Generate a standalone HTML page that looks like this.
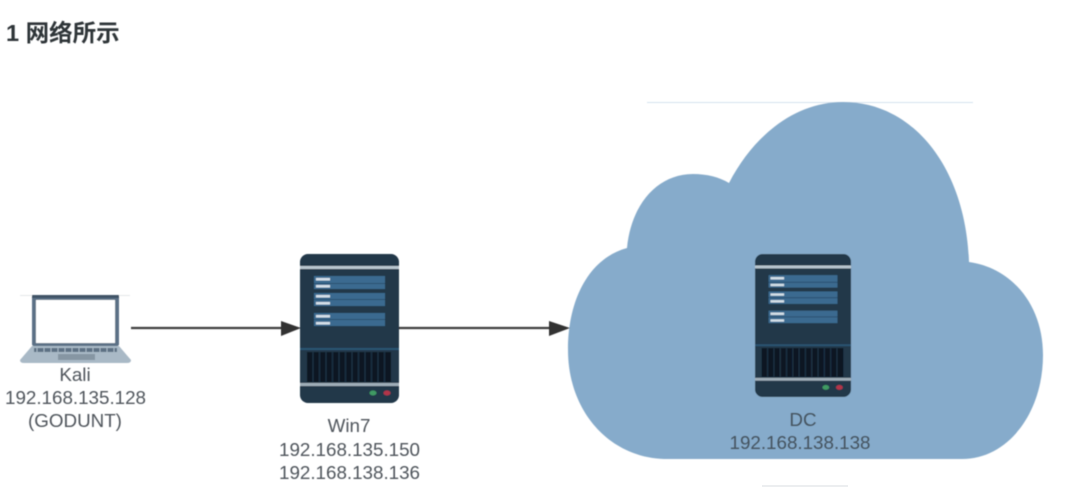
<!DOCTYPE html>
<html>
<head>
<meta charset="utf-8">
<style>
html,body{margin:0;padding:0;background:#fff;width:1080px;height:496px;overflow:hidden}
svg{display:block}
text{font-family:"Liberation Sans","Noto Sans CJK SC",sans-serif}
.l{font-size:18.800px;fill:#4f555c;text-anchor:middle}
.d{font-size:18.800px;fill:#44535f;text-anchor:middle}
</style>
</head>
<body>
<svg width="1080" height="496" viewBox="0 0 1080 496" xmlns="http://www.w3.org/2000/svg">
<defs>
<filter id="b" x="-5%" y="-5%" width="110%" height="110%"><feGaussianBlur stdDeviation="0.6"/></filter>
<filter id="t" x="-5%" y="-20%" width="110%" height="140%"><feGaussianBlur stdDeviation="0.45"/></filter>
<g id="srv">
  <rect x="0" y="0" width="99" height="149" rx="8" fill="#213748"/>
  <rect x="0" y="12" width="99" height="3" fill="#b9c6cf"/>
  <rect x="14" y="22" width="71" height="13" fill="#3b6a90"/>
  <rect x="14" y="29" width="71" height="1" fill="#29506f"/>
  <rect x="14" y="39" width="71" height="13" fill="#3b6a90"/>
  <rect x="14" y="45" width="71" height="1" fill="#29506f"/>
  <rect x="14" y="59" width="71" height="13" fill="#3b6a90"/>
  <rect x="14" y="65" width="71" height="1" fill="#29506f"/>
  <rect x="16" y="24" width="14" height="2.500" fill="#d5e0e8"/>
  <rect x="16" y="31" width="14" height="2.500" fill="#d5e0e8"/>
  <rect x="16" y="41" width="14" height="2.500" fill="#d5e0e8"/>
  <rect x="16" y="48" width="14" height="2.500" fill="#d5e0e8"/>
  <rect x="16" y="61" width="14" height="2.500" fill="#d5e0e8"/>
  <rect x="16" y="68" width="14" height="2.500" fill="#d5e0e8"/>
  <rect x="0" y="94" width="99" height="2" fill="#2c5472"/>
  <rect x="7" y="98" width="84" height="30" fill="#0a1420"/>
  <path d="M13 98v30M19.500 98v30M26 98v30M32.500 98v30M39 98v30M45.500 98v30M52 98v30M58.500 98v30M65 98v30M71.500 98v30M78 98v30M84.500 98v30" stroke="#1c3043" stroke-width="1.500"/>
  <rect x="0" y="129" width="99" height="3" fill="#9fadb8"/>
  <ellipse cx="73" cy="139" rx="3.500" ry="2.500" fill="#3f9a63"/>
  <ellipse cx="87" cy="139" rx="3.500" ry="2.500" fill="#b2344a"/>
</g>
</defs>

<text x="6" y="41" font-size="23.500" font-weight="700" fill="#2f3438" filter="url(#t)">1 网络所示</text>

<g filter="url(#b)">
  <!-- cloud -->
  <rect x="647" y="102" width="326" height="1" fill="#d4e2ee"/>
  <path d="M664 459 C608 457 568 410 568 350 C568 298 590 258 627 248 C631 205 657 174 693 174 C707 174 719 177 729 183 C755 133 797 102 843 102 C915 102 966 170 969 262 C1012 268 1043 305 1043 355 C1043 413 1008 459 962 459 Z" fill="#86abcb"/>

  <!-- connectors -->
  <path d="M131 328H284" stroke="#3c3c3c" stroke-width="2.200" fill="none"/>
  <path d="M281 321L301 328L281 336Z" fill="#333"/>
  <path d="M399 328H552" stroke="#3c3c3c" stroke-width="2.200" fill="none"/>
  <path d="M549 321L570 328L549 336Z" fill="#333"/>

  <!-- laptop -->
  <rect x="20" y="295" width="110" height="1" fill="#e4e7ea"/>
  <rect x="32" y="295" width="87" height="51" rx="2" fill="#5b7186"/>
  <rect x="32" y="295" width="87" height="3" fill="#3f5366"/>
  <rect x="36" y="300" width="79" height="43" fill="#fff"/>
  <path d="M32 346H119L131 360Q131 363 127 363H24Q20 363 20 360Z" fill="#a9b9c6"/>
  <rect x="34" y="348" width="83" height="4" fill="#5d7184"/>
  <path d="M37 348v4M44 348v4M51 348v4M58 348v4M65 348v4M72 348v4M79 348v4M86 348v4M93 348v4M100 348v4M107 348v4M114 348v4" stroke="#a9b9c6" stroke-width="1"/>
  <rect x="58" y="354" width="37" height="6" fill="#8696a3"/>

  <!-- servers -->
  <use href="#srv" transform="translate(300 254)"/>
  <use href="#srv" transform="translate(755 254) scale(0.97 0.96)"/>
</g>

<g filter="url(#t)">
  <text class="l" x="75" y="381">Kali</text>
  <text class="l" x="75.500" y="404">192.168.135.128</text>
  <text class="l" x="75" y="427">(GODUNT)</text>

  <text class="l" x="349" y="432">Win7</text>
  <text class="l" x="349.500" y="456">192.168.135.150</text>
  <text class="l" x="349.500" y="479">192.168.138.136</text>

  <text class="d" x="803" y="426">DC</text>
  <text class="d" x="800" y="449">192.168.138.138</text>
</g>

<!-- clipped label at bottom edge -->
<rect x="762" y="485" width="86" height="2" fill="#eceef0"/>
</svg>
</body>
</html>
